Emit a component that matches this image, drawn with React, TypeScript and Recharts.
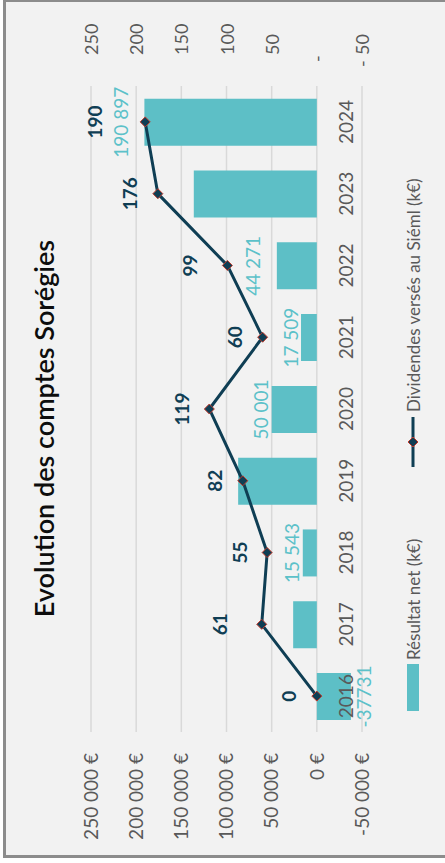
import React from 'react';
import { ComposedChart, Bar, Line, YAxis, XAxis, CartesianGrid, LabelList } from 'recharts';

const years = ['2016', '2017', '2018', '2019', '2020', '2021', '2022', '2023', '2024'];
const resultatNet = [-37731, 26200, 15543, 87100, 50001, 17509, 44271, 136200, 190897];
const dividendes = [0, 61, 55, 82, 119, 60, 99, 176, 190];
const showBarLabel = [true, false, true, false, true, true, true, false, true];
const leftTicks = [-50000, 0, 50000, 100000, 150000, 200000, 250000];
const rightTicks = [-50, 0, 50, 100, 150, 200, 250];
const seriesNames = ['Résultat net (k€)', 'Dividendes versés au Siéml (k€)'];
const title = 'Evolution des comptes Sorégies';

const data = years.map((year, i) => ({
  year,
  net: resultatNet[i],
  div: dividendes[i],
}));

const FONT = 'Lato, "Liberation Sans", sans-serif';
const BAR = '#5dbfc6';
const BAR_TEXT = '#5cc1c9';
const LINE = '#0f3e54';
const AXIS_TEXT = '#595959';
const GRID = '#d9d9d9';

// extra label lift (style tweaks, as in the original layout)
const lineLabelExtra: Record<string, number> = { '2017': 14, '2022': 10, '2024': 23 };
const barLabelExtra: Record<string, number> = { '2022': 13, '2024': 13 };

const fmtNum = (v: number) => Math.abs(v).toString().replace(/\B(?=(\d{3})+(?!\d))/g, ' ');
const fmtEuro = (v: number) => (v < 0 ? '-' : '') + fmtNum(v) + ' €';
const fmtBar = (v: number) => (v < 0 ? '-' + Math.abs(v).toString() : fmtNum(v));

const RightTick = (props: any) => {
  const { x, y, payload } = props;
  const v = payload.value as number;
  const common = { fill: AXIS_TEXT, fontSize: 18, fontFamily: FONT, dominantBaseline: 'central' as const };
  if (v === 0) return <text x={x + 24} y={y} {...common}>-</text>;
  if (v < 0)
    return (
      <g>
        <text x={x + 19} y={y} {...common}>-</text>
        <text x={x + 31} y={y} {...common}>{Math.abs(v)}</text>
      </g>
    );
  return <text x={x + 31} y={y} {...common}>{v}</text>;
};

const Diamond = (props: any) => {
  const { cx, cy } = props;
  if (cx == null || cy == null) return null;
  const r = 5;
  return (
    <polygon
      points={`${cx},${cy - r} ${cx + r},${cy} ${cx},${cy + r} ${cx - r},${cy}`}
      fill={LINE}
      stroke="#c0392b"
      strokeWidth={1}
    />
  );
};

const LineLabel = (props: any) => {
  const { x, y, value, index } = props;
  const extra = lineLabelExtra[years[index]] || 0;
  return (
    <text x={x} y={y - 28 - extra} textAnchor="middle" dominantBaseline="central" fill={LINE} fontSize={19} fontWeight={700} fontFamily={FONT}>
      {value}
    </text>
  );
};

const BarLabel = (props: any) => {
  const { x, y, width, height, value, index } = props;
  if (!showBarLabel[index]) return null;
  const top = Math.min(y, y + height);
  const bottom = Math.max(y, y + height);
  const extra = barLabelExtra[years[index]] || 0;
  const cy = value < 0 ? bottom + 13 : top - 11 - extra;
  return (
    <text x={x + width / 2} y={cy} textAnchor="middle" dominantBaseline="central" fill={BAR_TEXT} fontSize={19} fontFamily={FONT}>
      {fmtBar(value)}
    </text>
  );
};

const YearLabel = (props: any) => {
  const { x, y, value } = props;
  return (
    <text x={x} y={y + 29} textAnchor="middle" dominantBaseline="central" fill={AXIS_TEXT} fontSize={19} fontFamily={FONT}>
      {value}
    </text>
  );
};

const LegendBox = () => (
  <svg width={853} height={24} style={{ position: 'absolute', left: 3, top: 395, display: 'block' }}>
    <rect x={141} y={6} width={47} height={12} fill={BAR} />
    <text x={192} y={12} dominantBaseline="central" fill={AXIS_TEXT} fontSize={17} fontFamily={FONT}>
      {seriesNames[0]}
    </text>
    <line x1={385} y1={12} x2={435} y2={12} stroke={LINE} strokeWidth={3} />
    <Diamond cx={410} cy={12} />
    <text x={440} y={12} dominantBaseline="central" fill={AXIS_TEXT} fontSize={17} fontFamily={FONT}>
      {seriesNames[1]}
    </text>
  </svg>
);

export default function App() {
  return (
    <div style={{ position: 'fixed', left: 0, top: 0, width: 445, height: 863, background: '#ffffff', overflow: 'hidden' }}>
      <div
        style={{
          position: 'absolute',
          left: 3,
          top: 858,
          width: 859,
          height: 446,
          boxSizing: 'border-box',
          border: '3px solid #8c8c8c',
          background: '#f2f2f2',
          transform: 'rotate(-90deg)',
          transformOrigin: '0 0',
        }}
      >
        <ComposedChart width={853} height={440} data={data} margin={{ top: 85, right: 0, bottom: 84, left: 0 }}>
          <CartesianGrid yAxisId="left" horizontal vertical={false} stroke={GRID} strokeWidth={1.5} />
          <XAxis dataKey="year" hide />
          <YAxis
            yAxisId="left"
            orientation="left"
            width={123}
            domain={[-50000, 250000]}
            ticks={leftTicks}
            tickFormatter={fmtEuro}
            axisLine={false}
            tickLine={false}
            tickSize={0}
            tickMargin={21}
            tick={{ fill: AXIS_TEXT, fontSize: 19, fontFamily: FONT }}
            interval={0}
          />
          <YAxis
            yAxisId="right"
            orientation="right"
            width={84}
            domain={[-50, 250]}
            ticks={rightTicks}
            axisLine={false}
            tickLine={false}
            tickSize={0}
            tickMargin={0}
            tick={<RightTick />}
            interval={0}
          />
          <Bar yAxisId="left" dataKey="net" name={seriesNames[0]} fill={BAR} barSize={47} isAnimationActive={false}>
            <LabelList dataKey="net" content={<BarLabel />} />
          </Bar>
          <Line
            yAxisId="left"
            dataKey={() => 0}
            stroke="none"
            dot={false}
            activeDot={false}
            legendType="none"
            isAnimationActive={false}
          >
            <LabelList dataKey="year" content={<YearLabel />} />
          </Line>
          <Line
            yAxisId="right"
            dataKey="div"
            name={seriesNames[1]}
            stroke={LINE}
            strokeWidth={3}
            dot={<Diamond />}
            activeDot={false}
            isAnimationActive={false}
          >
            <LabelList dataKey="div" content={<LineLabel />} />
          </Line>
        </ComposedChart>
        <div
          style={{
            position: 'absolute',
            left: 0,
            top: 22,
            width: 853,
            textAlign: 'center',
            fontFamily: FONT,
            fontSize: 27,
            fontWeight: 600,
            lineHeight: '32px',
            color: '#0d0d0d',
          }}
        >
          {title}
        </div>
        <LegendBox />
      </div>
    </div>
  );
}
